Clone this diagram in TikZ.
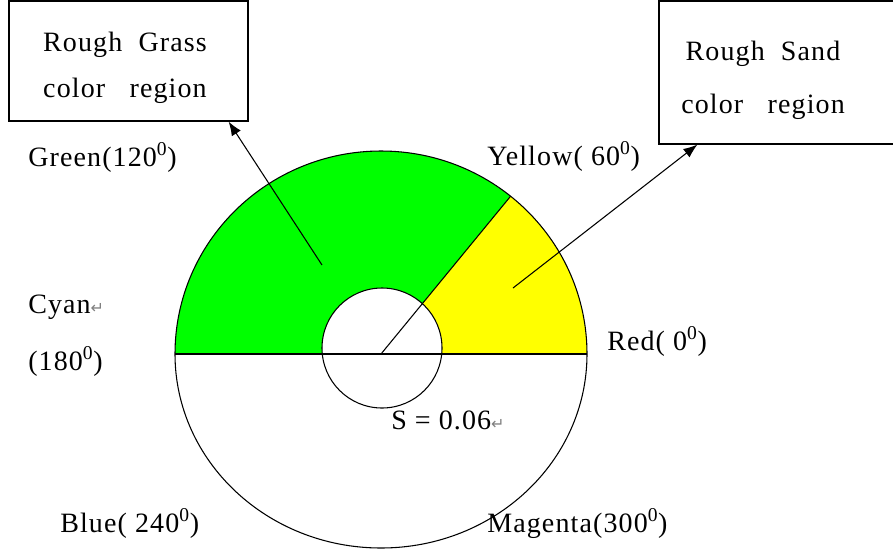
\documentclass[tikz,border=0pt]{standalone}
\usepackage{fontspec}
\setmainfont[LetterSpace=4]{Liberation Serif}
\newfontfamily\markfont{DejaVu Sans}
\usetikzlibrary{arrows.meta}

\definecolor{huegreen}{RGB}{0,255,0}
\definecolor{hueyellow}{RGB}{255,255,0}
\newcommand{\retmark}{{\markfont\color{gray}\fontsize{12}{12}\selectfont ↵}}
\newcommand{\hdeg}[1]{#1\textsuperscript{0}}

\begin{document}
\begin{tikzpicture}[x=0.75pt, y=0.75pt,
		lbl/.style={anchor=base west, inner sep=0pt, font=\fontsize{21}{25}\selectfont},
		regionbox/.style={rectangle, draw, line width=0.9pt},
		boxtext/.style={align=center, inner sep=0pt},
		pointer/.style={-{Latex[length=10.5pt,width=8pt]}, line width=0.8pt}]
	\useasboundingbox (0,0) rectangle (893,-551);
	\clip (0,0) rectangle (893,-551);

	% hue sectors
	\coordinate (c) at (381,-354);
	\fill[huegreen] (c) -- +(-206,0) arc[start angle=180, end angle=51, x radius=206, y radius=203] -- cycle;
	\fill[hueyellow] (c) -- +(206,0) arc[start angle=0, end angle=51, x radius=206, y radius=203] -- cycle;

	% saturation circle
	\filldraw[fill=white, line width=0.8pt] (382,-348) circle[radius=60];

	% axes of the hue wheel
	\draw[line width=0.8pt] (c) +(-206,0) -- +(206,0);
	\path (c) +(129.6,157.8) coordinate (rim);
	\draw[line width=0.8pt] (c) -- (rim);
	\draw[line width=0.8pt] (c) +(-206,0) arc[start angle=180, end angle=0, x radius=206, y radius=203];
	\draw[line width=0.8pt] (c) +(206,0) arc[start angle=0, end angle=-180, x radius=206, y radius=194];

	% region boxes
	\node[regionbox, minimum width=179.25pt, minimum height=90pt] (grassbox) at (128.5,-61) {};
	\node[boxtext, font=\fontsize{21}{34.5}\selectfont] (grasstext) at (125,-68) {Rough\ \ Grass\\color\ \ \ region};
	\node[regionbox, minimum width=177pt, minimum height=107.25pt] (sandbox) at (777,-72.5) {};
	\node[boxtext, font=\fontsize{21}{39.75}\selectfont] (sandtext) at (763,-80) {Rough\ \ Sand\\color\ \ \ region};

	% pointers into the boxes
	\coordinate (grassspot) at (322,-265);
	\coordinate (sandspot) at (513,-288);
	\draw[pointer] (grassspot) -- ([xshift=-15pt]grassbox.south east);
	\draw[pointer] (sandspot) -- ([xshift=29.25pt]sandbox.south west);

	% hue labels
	\node[lbl] (green) at (28,-166) {Green(\hdeg{120})};
	\node[lbl] (yellow) at (487,-165) {Yellow( \hdeg{60})};
	\node[lbl] (cyan) at (28,-313) {Cyan\retmark};
	\node[lbl] (cyandeg) at (28,-370) {(\hdeg{180})};
	\node[lbl] (red) at (607,-350) {Red( \hdeg{0})};
	\node[lbl] (blue) at (60,-532) {Blue( \hdeg{240})};
	\node[lbl] (magenta) at (487,-532) {Magenta(\hdeg{300})};
	\node[lbl] (sat) at (391,-429) {S = 0.06\retmark};
\end{tikzpicture}
\end{document}
